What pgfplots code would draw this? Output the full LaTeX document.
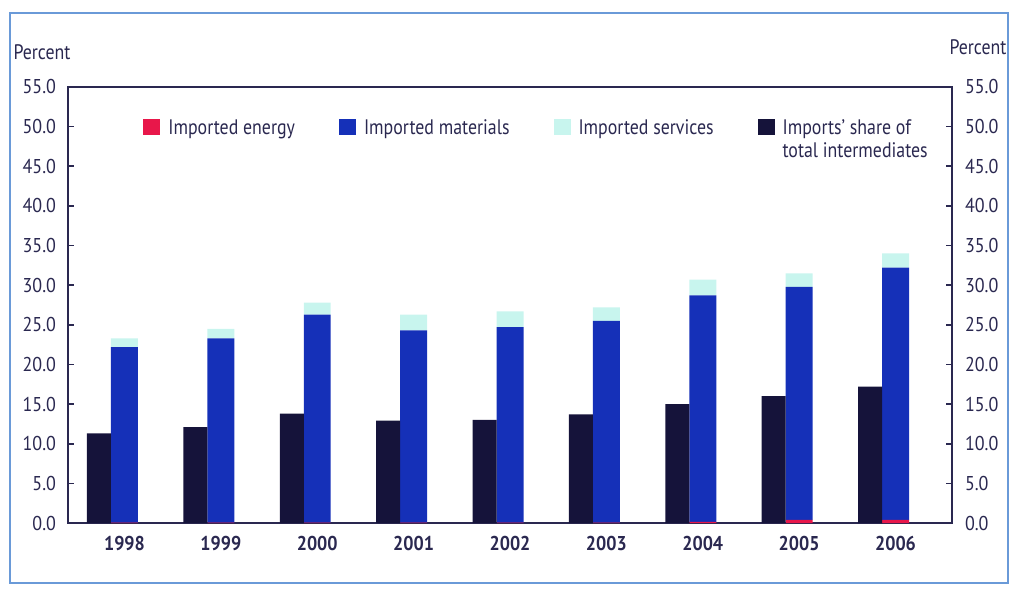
\documentclass[border=0pt]{standalone}
\usepackage{fontspec}
\setmainfont{PT Sans}[FakeStretch=0.85]
\newfontfamily\tickfont{PT Sans}[FakeStretch=0.9]
\usepackage{pgfplots}
\usepackage{pgfplotstable}
\pgfplotsset{compat=1.18}

\definecolor{energy}{HTML}{E8174A}
\definecolor{materials}{HTML}{1530B8}
\definecolor{services}{HTML}{C8F5EE}
\definecolor{share}{HTML}{15133A}
\definecolor{axiscol}{HTML}{2A2850}
\definecolor{framecol}{HTML}{6A9AD8}

% idx: year index, shares in percent
\pgfplotstableread{
idx year energy materials services share
0 1998 0.05 22.15 1.1 11.3
1 1999 0.05 23.25 1.2 12.1
2 2000 0.05 26.25 1.5 13.8
3 2001 0.05 24.25 2.0 12.9
4 2002 0.05 24.65 2.0 13.0
5 2003 0.05 25.45 1.7 13.7
6 2004 0.15 28.55 2.0 15.0
7 2005 0.4 29.4 1.7 16.0
8 2006 0.4 31.8 1.8 17.2
}\data

\pgfplotsset{
  common/.style={
    scale only axis, width=442pt, height=218pt,
    xmin=-0.446, xmax=8.726, ymin=0, ymax=55,
    ytick={0,5,...,55},
    tick align=inside, major tick length=3pt,
    every tick/.style={axiscol, line width=0.8pt},
    axis line style={axiscol, line width=0.8pt},
    yticklabel={\pgfmathprintnumber[fixed,fixed zerofill,precision=1]{\tick}},
    /pgf/number format/assume math mode=true,
    tick label style={font=\tickfont\fontsize{10}{12}\selectfont, text=axiscol},
  },
  sq/.style={legend image code/.code={\fill[##1] (0pt,-0.5pt) rectangle (8.5pt,7.5pt);}},
}

\begin{document}
\begin{tikzpicture}
\path[use as bounding box] (-34pt,-33pt) rectangle (471.5pt,261.5pt);
\draw[framecol, line width=1.2pt] (-29pt,-30pt) rectangle (470pt,255pt);

\begin{axis}[common,
  ybar stacked, bar width=0.28, bar shift=0.14,
  ytick pos=left,
  yticklabel style={xshift=-2.5pt},
  xtick={0.14,1.14,2.14,3.14,4.14,5.14,6.14,7.14,8.14},
  xticklabels={1998,1999,2000,2001,2002,2003,2004,2005,2006},
  xticklabel style={font=\tickfont\fontsize{10}{12}\selectfont\bfseries, yshift=-3pt},
  xtick style={draw=none},
  legend columns=4,
  legend style={draw=none, fill=none, inner sep=0pt,
    at={(0.0848,0.93)}, anchor=north west,
    nodes={inner sep=0pt, anchor=base west, text=axiscol,
      font=\fontsize{10.5}{11.5}\selectfont},
    /tikz/every odd column/.append style={column sep=4pt},
    /tikz/every even column/.append style={column sep=22pt}},
]
\addplot[fill=energy, draw=none, sq] table[x=idx, y=energy] {\data};
\addplot[fill=materials, draw=none, sq] table[x=idx, y=materials] {\data};
\addplot[fill=services, draw=none, sq] table[x=idx, y=services] {\data};
\addlegendimage{fill=share, draw=none, sq}
\legend{Imported energy, Imported materials, Imported services,
  {\begin{tabular}[t]{@{}l@{}}Imports' share of\\total intermediates\end{tabular}}}
\end{axis}

\begin{axis}[common,
  ybar, bar width=0.249, bar shift=-0.1245,
  axis x line=none, axis y line*=right,
  ytick pos=right,
  yticklabel style={xshift=3pt},
]
\addplot[fill=share, draw=none] table[x=idx, y=share] {\data};
\end{axis}

\node[text=axiscol, font=\fontsize{10.5}{12}\selectfont] at (-13pt,235.5pt) {Percent};
\node[text=axiscol, font=\fontsize{10.5}{12}\selectfont] at (455pt,238pt) {Percent};
\end{tikzpicture}
\end{document}
